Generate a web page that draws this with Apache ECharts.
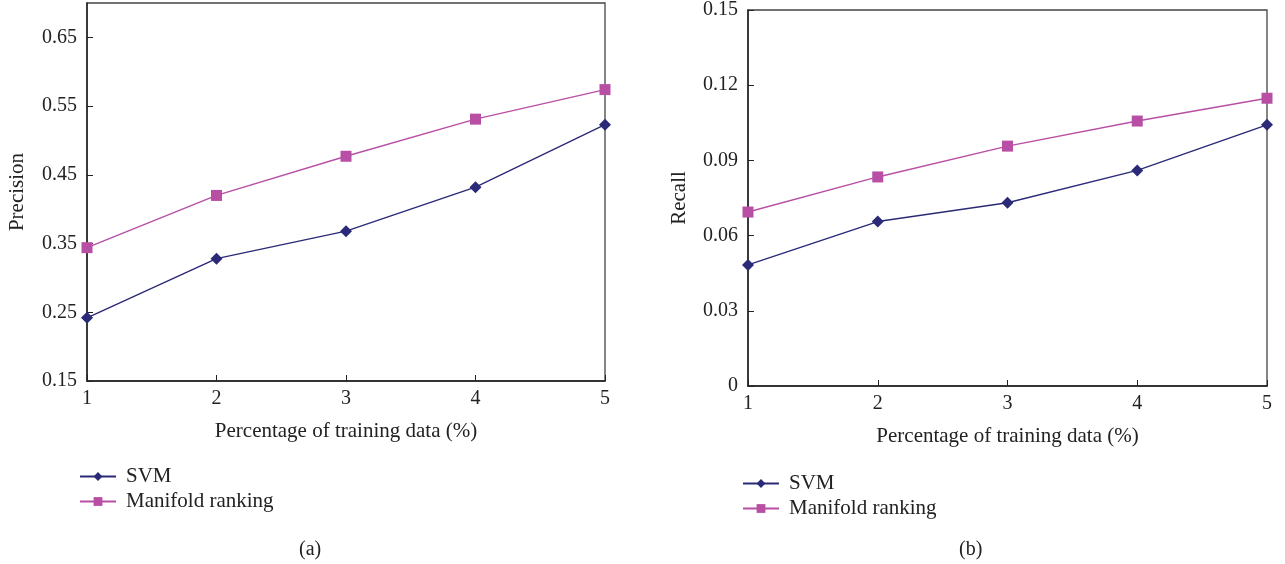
<!DOCTYPE html>
<html><head><meta charset="utf-8">
<script src="https://cdn.jsdelivr.net/npm/echarts@6/dist/echarts.min.js"></script>
<style>html,body{margin:0;padding:0;background:#fff}#c{width:1285px;height:564px}</style>
</head><body><div id="c"></div>
<script>
const categories = ['1','2','3','4','5'];
const precisionSVM = [0.242, 0.328, 0.368, 0.432, 0.523];
const precisionMR = [0.344, 0.420, 0.477, 0.531, 0.574];
const recallSVM = [0.0483, 0.0656, 0.0731, 0.0860, 0.1042];
const recallMR = [0.0694, 0.0834, 0.0957, 0.1057, 0.1148];
const precisionTicks = [0.15, 0.25, 0.35, 0.45, 0.55, 0.65];
const recallTicks = [0, 0.03, 0.06, 0.09, 0.12, 0.15];

const FONT = 'Liberation Serif';
const TXT = '#222';
const SVM_C = '#2a2a78';
const MR_C = '#b84fa4';
const chart = echarts.init(document.getElementById('c'));

function xAxis(idx) {
  return {
    type: 'category', gridIndex: idx, data: categories, boundaryGap: false,
    name: 'Percentage of training data (%)', nameLocation: 'middle', nameGap: 40,
    nameTextStyle: {fontFamily: FONT, fontSize: 21, color: TXT},
    axisLine: {lineStyle: {color: '#222', width: 1.5}},
    axisTick: {inside: true, length: 6, lineStyle: {color: '#222'}},
    axisLabel: {fontFamily: FONT, fontSize: 20, color: TXT, margin: 8},
    splitLine: {show: false}
  };
}
function yAxis(idx, name, min, max, ticks, fmt) {
  return {
    type: 'value', gridIndex: idx, min: min, max: max,
    name: name, nameLocation: 'middle', nameGap: idx === 0 ? 59 : 58, nameRotate: 90,
    nameTextStyle: {fontFamily: FONT, fontSize: 21, color: TXT},
    axisLine: {show: true, lineStyle: {color: '#222', width: 1.5}},
    axisTick: {show: true, inside: true, length: 6, customValues: ticks, lineStyle: {color: '#222'}},
    axisLabel: {fontFamily: FONT, fontSize: 20, color: TXT, margin: 10, customValues: ticks, formatter: fmt},
    splitLine: {show: false}
  };
}
function series(name, data, idx, color, symbol, size) {
  return {
    name: name, type: 'line', xAxisIndex: idx, yAxisIndex: idx, data: data,
    symbol: symbol, symbolSize: size, showSymbol: true,
    lineStyle: {color: color, width: 1.4}, itemStyle: {color: color},
    emphasis: {disabled: true}, animation: false, clip: false
  };
}
function legend(left, top, seriesNames) {
  return {
    orient: 'vertical', left: left, top: top, itemWidth: 36, itemHeight: 11, itemGap: 4,
    data: seriesNames, textStyle: {fontFamily: FONT, fontSize: 21, color: TXT, padding: [0, 0, 0, 5]},
    selectedMode: false
  };
}

chart.setOption({
  animation: false,
  grid: [
    {left: 87, right: 680, top: 3, height: 378, show: true, borderColor: '#444', borderWidth: 1.3, containLabel: false},
    {left: 748, right: 18, top: 8, height: 378, show: true, borderColor: '#444', borderWidth: 1.3, containLabel: false}
  ],
  xAxis: [xAxis(0), xAxis(1)],
  yAxis: [
    yAxis(0, 'Precision', 0.15, 0.70, precisionTicks, v => v.toFixed(2)),
    yAxis(1, 'Recall', 0, 0.15, recallTicks, v => v === 0 ? '0' : v.toFixed(2))
  ],
  legend: [
    legend(74, 461, [{name: 'SVM'}, {name: 'Manifold ranking'}]),
    legend(737, 468, [{name: 'SVM '}, {name: 'Manifold ranking '}])
  ],
  title: [
    {text: '(a)', left: 294, top: 535, textStyle: {fontFamily: FONT, fontSize: 20, fontWeight: 'normal', color: TXT}},
    {text: '(b)', left: 954, top: 535, textStyle: {fontFamily: FONT, fontSize: 20, fontWeight: 'normal', color: TXT}}
  ],
  series: [
    series('SVM', precisionSVM, 0, SVM_C, 'diamond', 12),
    series('Manifold ranking', precisionMR, 0, MR_C, 'rect', 11),
    series('SVM ', recallSVM, 1, SVM_C, 'diamond', 12),
    series('Manifold ranking ', recallMR, 1, MR_C, 'rect', 11)
  ]
});
</script></body></html>
